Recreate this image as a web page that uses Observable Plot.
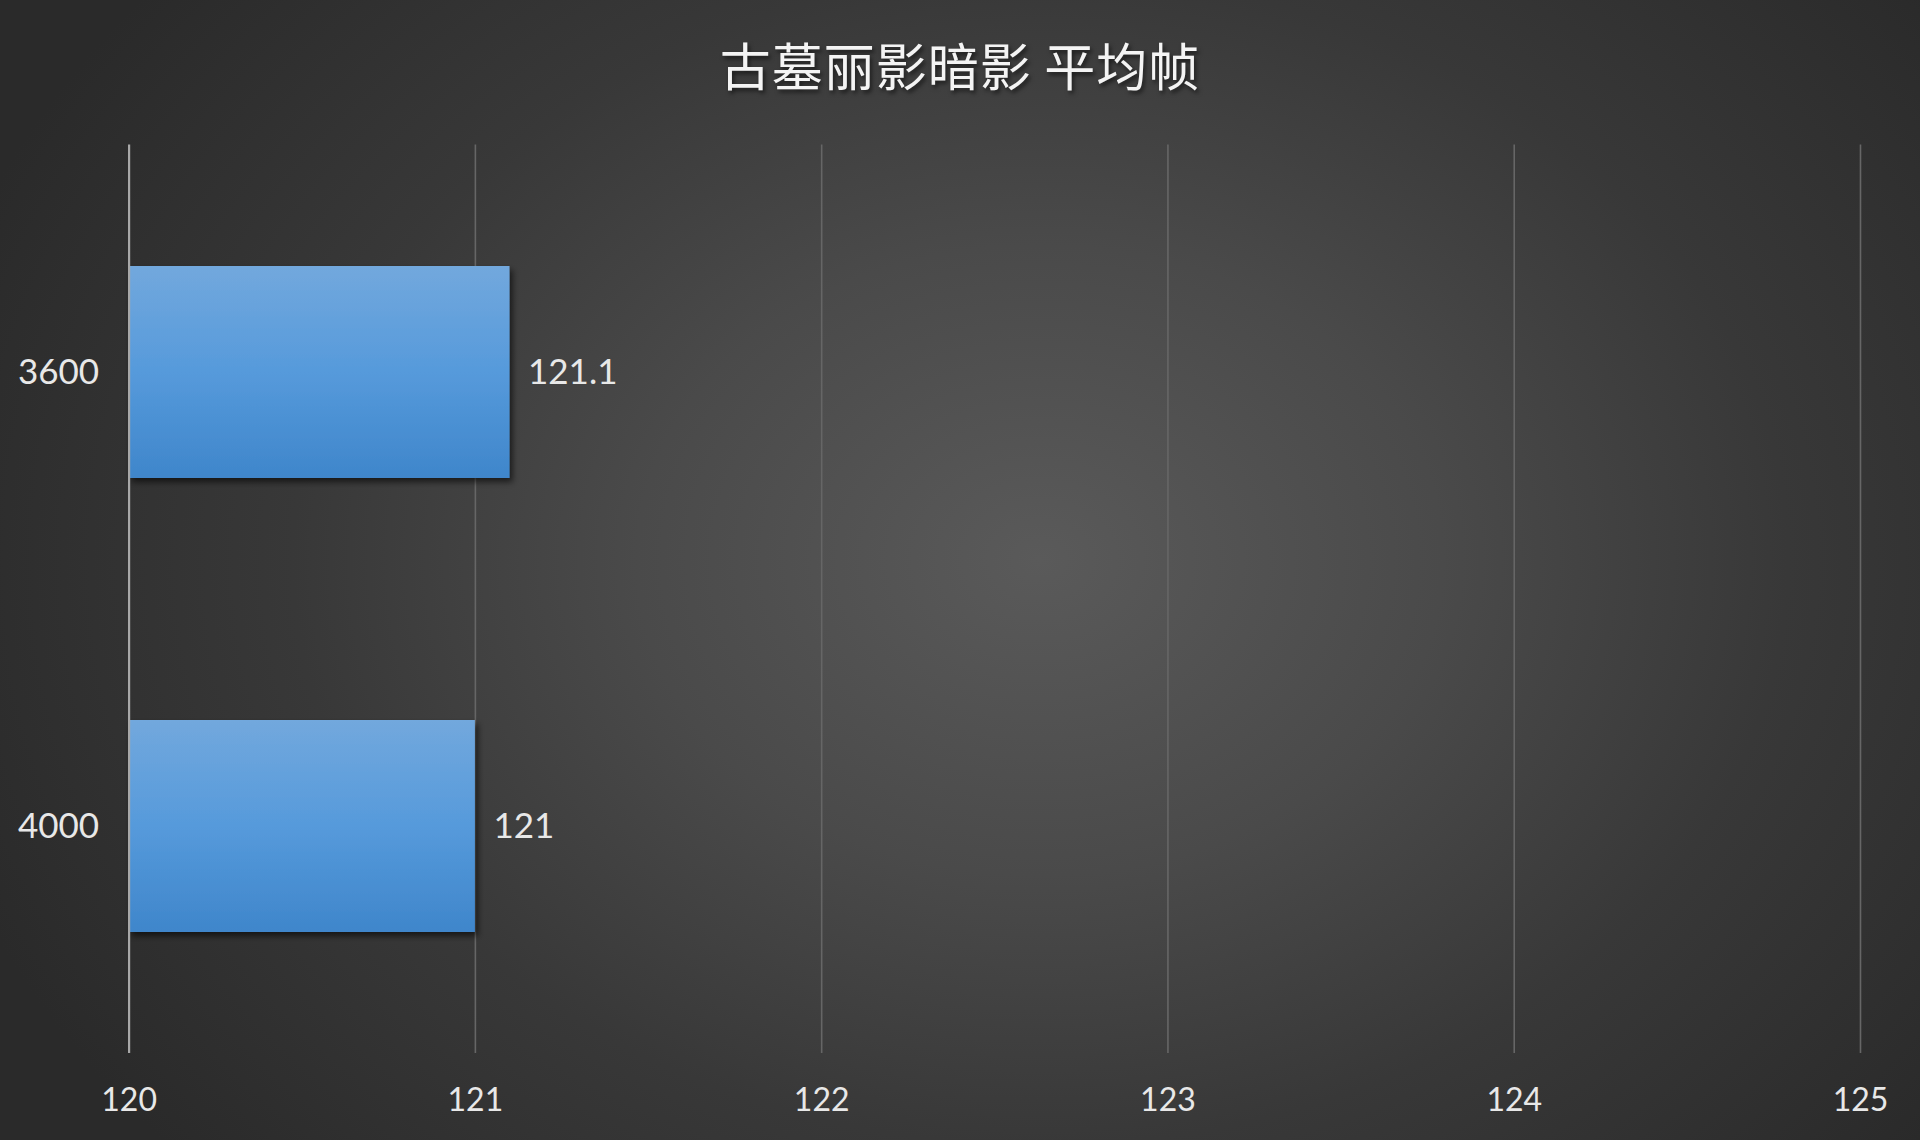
<!DOCTYPE html>
<html>
<head>
<meta charset="utf-8">
<script src="https://cdn.jsdelivr.net/npm/d3@7"></script>
<script src="https://cdn.jsdelivr.net/npm/@observablehq/plot@0.6"></script>
<style>
  html, body { margin: 0; padding: 0; background: #2b2b2b; }
  #wrap {
    position: relative; width: 1920px; height: 1140px; overflow: hidden;
    background: radial-gradient(ellipse 1150px 900px at 1040px 560px, #5a5a5a 0%, #4a4a4a 35%, #383838 65%, #2a2a2a 100%);
  }
  #title {
    position: absolute; left: 0; top: 33px; width: 1920px; text-align: center;
    font-family: "Noto Sans CJK SC", sans-serif; font-weight: 400; font-size: 51px;
    letter-spacing: 1px;
    line-height: 62px; color: #f4f4f4; text-shadow: 2px 3px 4px rgba(0,0,0,0.55);
  }
  #chart { position: absolute; left: 0; top: 0; }
  #chart svg { background: transparent !important; }
</style>
</head>
<body>
<div id="wrap">
  <div id="title">古墓丽影暗影 平均帧</div>
  <div id="chart"></div>
</div>
<script>
const categories = ["3600", "4000"];
const values = [121.1, 121];
const xTicks = [120, 121, 122, 123, 124, 125];
const gridTicks = [121, 122, 123, 124, 125];

const data = categories.map((c, i) => ({category: c, value: values[i], label: String(values[i])}));

const font = "Lato, 'Open Sans', sans-serif";

const chart = Plot.plot({
  width: 1920,
  height: 1140,
  marginLeft: 128.6,
  marginRight: 60,
  marginTop: 144.5,
  marginBottom: 87,
  style: {background: "transparent", color: "#e6e6e6", fontFamily: font},
  x: {domain: [120, 125], ticks: xTicks},
  y: {domain: categories, paddingInner: 0.533, paddingOuter: 0.2665},
  marks: [
    () => {
      const ns = "http://www.w3.org/2000/svg";
      const g = document.createElementNS(ns, "g");
      g.innerHTML = `<defs>
        <linearGradient id="barGrad" x1="0" y1="0" x2="0" y2="1">
          <stop offset="0%" stop-color="#72a8dd"/>
          <stop offset="50%" stop-color="#569adb"/>
          <stop offset="100%" stop-color="#3f86cb"/>
        </linearGradient>
        <filter id="barShadow" x="-10%" y="-10%" width="130%" height="130%">
          <feDropShadow dx="3" dy="4" stdDeviation="3" flood-color="#000" flood-opacity="0.6"/>
        </filter>
      </defs>`;
      return g;
    },
    Plot.ruleX(gridTicks, {stroke: "#666666", strokeWidth: 1.6}),
    Plot.barX(data, {
      x1: 120, x2: "value", y: "category",
      fill: "url(#barGrad)"
    }),
    Plot.ruleX([120], {stroke: "#a8a8a8", strokeWidth: 2.2}),
    Plot.text(data, {
      x: "value", y: "category", text: "label",
      textAnchor: "start", dx: 18, fontSize: 35, fill: "#e8e8e8", fontFamily: font
    }),
    Plot.axisX({
      ticks: xTicks, tickSize: 0, tickPadding: 35, fontSize: 32,
      fill: "#e8e8e8", tickFormat: d => String(d), label: null, fontFamily: font
    }),
    Plot.axisY({
      tickSize: 0, tickPadding: 30, fontSize: 35, fill: "#e8e8e8", label: null, fontFamily: font
    })
  ]
});

document.getElementById("chart").appendChild(chart);
d3.select(chart).selectAll("rect").filter(function(){ return this.getAttribute("fill") === "url(#barGrad)" || (this.parentNode && this.parentNode.getAttribute("fill") === "url(#barGrad)"); })
  .attr("filter", "url(#barShadow)");
</script>
</body>
</html>
